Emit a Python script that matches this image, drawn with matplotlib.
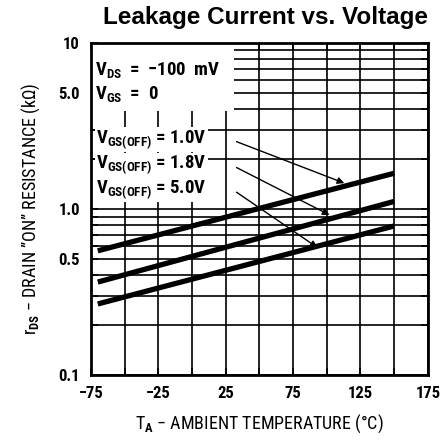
import matplotlib
matplotlib.use('Agg')
import matplotlib.pyplot as plt
from matplotlib.ticker import FixedLocator, NullFormatter, LogLocator
from matplotlib.patches import Rectangle

cond = ['Roboto Condensed', 'DejaVu Sans']
plt.rcParams['font.family'] = cond
plt.rcParams['font.weight'] = 'bold'
plt.rcParams['mathtext.fontset'] = 'custom'
plt.rcParams['mathtext.rm'] = 'Roboto Condensed:bold'
plt.rcParams['mathtext.it'] = 'Roboto Condensed:bold'
plt.rcParams['mathtext.bf'] = 'Roboto Condensed:bold'

# data
temp = [-70, 40, 150]
r_10 = [0.56, 0.96, 1.64]   # VGS(OFF) = 1.0V
r_18 = [0.363, 0.635, 1.11]  # VGS(OFF) = 1.8V
r_50 = [0.268, 0.46, 0.79]   # VGS(OFF) = 5.0V

curve_labels = ['V$_{\\mathrm{GS(OFF)}}$ = 1.0V',
                'V$_{\\mathrm{GS(OFF)}}$ = 1.8V',
                'V$_{\\mathrm{GS(OFF)}}$ = 5.0V']
arrow_tips = [(113, 1.43), (102, 0.92), (93, 0.586)]

x_ticks = [-75, -25, 25, 75, 125, 175]
x_grid = list(range(-75, 176, 25))
y_ticks = [0.1, 0.5, 1.0, 5.0, 10]
y_tick_labels = ['0.1', '0.5', '1.0', '5.0', '10']

fig = plt.figure(figsize=(4.42, 4.46), dpi=100)
ax = fig.add_axes([0.206, 0.159, 0.762, 0.745])
ax.set_yscale('log')
ax.set_xlim(-75, 175)
ax.set_ylim(0.1, 10)

ax.xaxis.set_major_locator(FixedLocator(x_ticks))
ax.xaxis.set_minor_locator(FixedLocator(x_grid))
ax.yaxis.set_major_locator(FixedLocator(y_ticks))
ax.yaxis.set_minor_locator(LogLocator(base=10, subs=range(1, 10)))
ax.yaxis.set_minor_formatter(NullFormatter())
ax.set_yticklabels(y_tick_labels)

ax.set_axisbelow(True)
ax.grid(which='both', color='black', linewidth=1.2)
ax.tick_params(which='both', direction='in', length=5, width=1.2,
               top=True, right=True, labelsize=12, pad=8)
for sp in ax.spines.values():
    sp.set_linewidth(2)

# white area behind the condition text
ax.add_patch(Rectangle((0.0, 0.795), 0.425, 0.205, transform=ax.transAxes,
                       facecolor='white', edgecolor='none', zorder=1))

for y in [r_10, r_18, r_50]:
    ax.plot(temp, y, color='black', linewidth=3.8, solid_capstyle='butt', zorder=3)

ax.text(-72, 6.9, 'V$_{\\mathrm{DS}}$  =  \u2212100  mV', fontsize=13.5, va='center',
        zorder=4, bbox=dict(facecolor='white', edgecolor='none', pad=1))
ax.text(-72, 4.9, 'V$_{\\mathrm{GS}}$  =  0', fontsize=13.5, va='center',
        zorder=4, bbox=dict(facecolor='white', edgecolor='none', pad=1))

label_y = [2.62, 1.83, 1.30]
for lab, ly, tip in zip(curve_labels, label_y, arrow_tips):
    ax.text(-71, ly, lab, fontsize=13.5, va='center', zorder=4,
            bbox=dict(facecolor='white', edgecolor='none', pad=1))
    ax.annotate('', xy=tip, xytext=(33, ly * 0.97), zorder=5,
                arrowprops=dict(arrowstyle='-|>', color='black', lw=1,
                                mutation_scale=10, shrinkA=0, shrinkB=0))

ax.set_xlabel('T$_{\\mathrm{A}}$ \u2212 AMBIENT TEMPERATURE (\u00b0C)', fontsize=13, labelpad=8)
ax.set_ylabel('r$_{\\mathrm{DS}}$ \u2212 DRAIN \u201dON\u201d RESISTANCE (k\u03a9)', fontsize=13, labelpad=12)

fig.text(0.6, 0.96, 'Leakage Current vs. Voltage', fontsize=17.5, fontweight='bold',
         family=['Liberation Sans', 'DejaVu Sans'], ha='center', va='center')

fig.savefig('out.png', dpi=100)
